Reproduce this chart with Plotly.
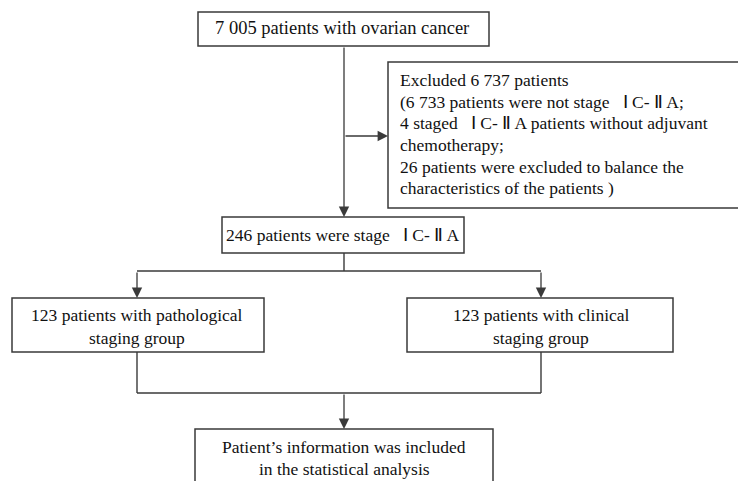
import plotly.graph_objects as go

# ---- content ----
top_text = ["7 005 patients with ovarian cancer"]
excluded_lines = [
    "Excluded 6 737 patients",
    "(6 733 patients were not stage \u2002Ⅰ C- Ⅱ A;",
    "4 staged \u2002Ⅰ C- Ⅱ A patients without adjuvant",
    "chemotherapy;",
    "26 patients were excluded to balance the",
    "characteristics of the patients )",
]
stage_text = ["246 patients were stage \u2002Ⅰ C- Ⅱ A"]
path_lines = ["123 patients with pathological", "staging group"]
clin_lines = ["123 patients with clinical", "staging group"]
final_lines = ["Patient\u2019s information was included", "in the statistical analysis"]

W, H = 746, 481
OFF = 8  # page body margin compensation
FONT = "Liberation Serif, Times New Roman, serif"
FS = 17.5
LC = "#3a3a3a"

fig = go.Figure()
shapes = []
annotations = []

def box(x0, y0, x1, y1):
    shapes.append(dict(type="rect", x0=x0, y0=y0, x1=x1, y1=y1, xref="x", yref="y",
                       line=dict(color=LC, width=1.5), fillcolor="rgba(0,0,0,0)"))

def line(x0, y0, x1, y1):
    shapes.append(dict(type="line", x0=x0, y0=y0, x1=x1, y1=y1, xref="x", yref="y",
                       line=dict(color=LC, width=1.4)))

def arrow(x0, y0, x1, y1):
    annotations.append(dict(x=x1, y=y1, ax=x0, ay=y0, xref="x", yref="y", axref="x", ayref="y",
                            showarrow=True, arrowhead=2, arrowsize=1.6, arrowwidth=1.3,
                            arrowcolor=LC, text=""))

def text(x, y, s, anchor="center", size=FS):
    annotations.append(dict(x=x, y=y, xref="x", yref="y", text=s, showarrow=False,
                            xanchor=anchor, yanchor="middle",
                            font=dict(family=FONT, size=size, color="#111111")))

# boxes
box(198, 12, 489, 46)
box(388, 62, 745, 208)
box(222, 217, 464, 253)
box(12, 298, 264, 352)
box(407, 298, 673, 352)
box(195, 429, 493, 500)

# connectors
arrow(344, 46, 344, 217)
arrow(344, 136, 388, 136)
line(344, 253, 344, 271)
line(137, 271, 541, 271)
arrow(137, 271, 137, 298)
arrow(541, 271, 541, 298)
line(137, 352, 137, 393)
line(541, 352, 541, 393)
line(137, 393, 541, 393)
arrow(344, 393, 344, 429)

# texts
text(342, 28, top_text[0], size=18.5)
ex_y = [80, 102, 123, 145, 167, 188]
for yy, s in zip(ex_y, excluded_lines):
    text(398, yy, s, anchor="left")
text(343, 235, stage_text[0])
for yy, s in zip([315, 338], path_lines):
    text(137, yy, s)
for yy, s in zip([315, 338], clin_lines):
    text(541, yy, s)
for yy, s in zip([447, 469], final_lines):
    text(344, yy, s)

fig.update_layout(
    width=W - OFF, height=H - OFF, margin=dict(l=0, r=0, t=0, b=0),
    paper_bgcolor="white", plot_bgcolor="white",
    xaxis=dict(range=[OFF, W], visible=False, fixedrange=True),
    yaxis=dict(range=[H, OFF], visible=False, fixedrange=True),
    shapes=shapes, annotations=annotations, showlegend=False,
)
fig.write_html("out.html")
